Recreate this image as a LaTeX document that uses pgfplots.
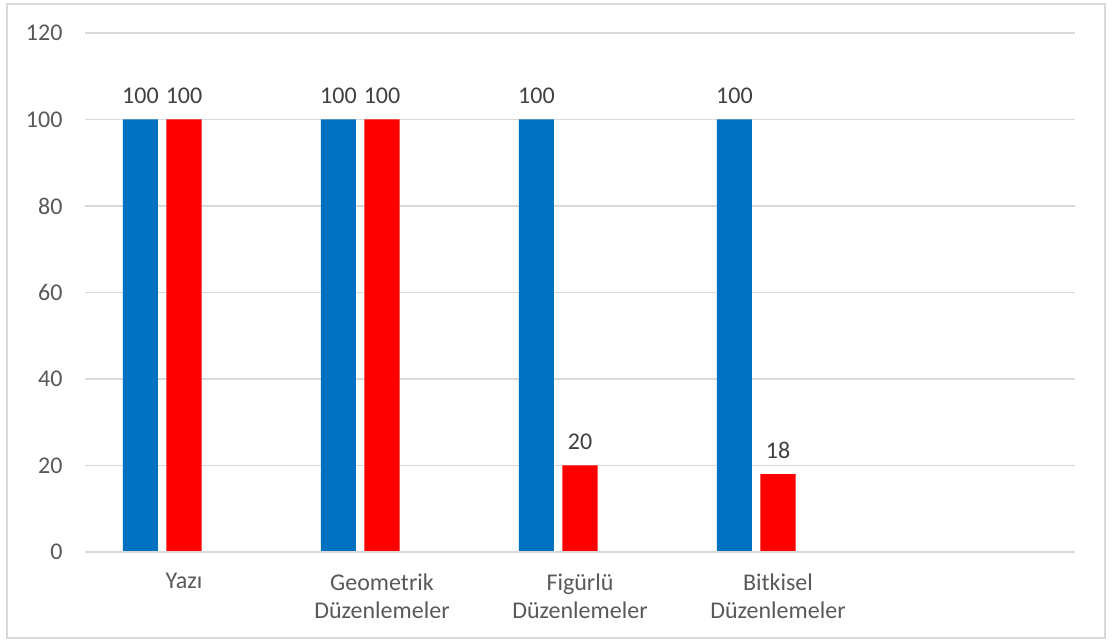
\documentclass[border=0pt]{standalone}
\usepackage{pgfplots}
\pgfplotsset{compat=1.18}
\usepackage{fontspec}
\setmainfont{Carlito}
\definecolor{xblue}{HTML}{0070C0}
\definecolor{xred}{HTML}{FF0000}
\definecolor{tickgray}{HTML}{595959}
\definecolor{labgray}{HTML}{404040}
\definecolor{gridgray}{HTML}{D9D9D9}
\begin{document}
\begin{tikzpicture}[x=1pt,y=1pt]
\useasboundingbox (0,0) rectangle (1112,643);
\fill[white] (0,0) rectangle (1112,643);
\draw[gridgray, line width=1.2pt] (7,5) rectangle (1105,639);
\begin{axis}[
  at={(85pt,91pt)}, anchor=south west,
  scale only axis, width=990pt, height=519pt,
  ymin=0, ymax=120, ytick={0,20,...,120},
  xmin=-0.5, xmax=4.5,
  xtick={0,1,2,3},
  xticklabels={Yazı, Geometrik\\Düzenlemeler, Figürlü\\Düzenlemeler, Bitkisel\\Düzenlemeler},
  axis line style={draw=none},
  axis x line*=bottom,
  axis y line*=left,
  major tick length=0pt,
  /pgf/number format/assume math mode=true,
  ymajorgrids, grid style={gridgray, line width=1.2pt},
  font=\fontsize{24}{29}\selectfont,
  tick label style={text=tickgray},
  xticklabel style={align=center, yshift=-18pt, font=\fontsize{24}{28}\selectfont},
  yticklabel style={xshift=-19pt},
  ybar, bar width=0.177,
  nodes near coords,
  nodes near coords style={text=labgray, font=\fontsize{24}{29}\selectfont, yshift=12pt},
  clip=false,
]
\addplot[fill=xblue, draw=none, bar shift=-0.22] coordinates {(0,100) (1,100) (2,100) (3,100)};
\addplot[fill=xred, draw=none, bar shift=0] coordinates {(0,100) (1,100) (2,20) (3,18)};
\draw[gridgray, line width=1.2pt] (axis cs:-0.5,0) -- (axis cs:4.5,0);
\end{axis}
\end{tikzpicture}
\end{document}
